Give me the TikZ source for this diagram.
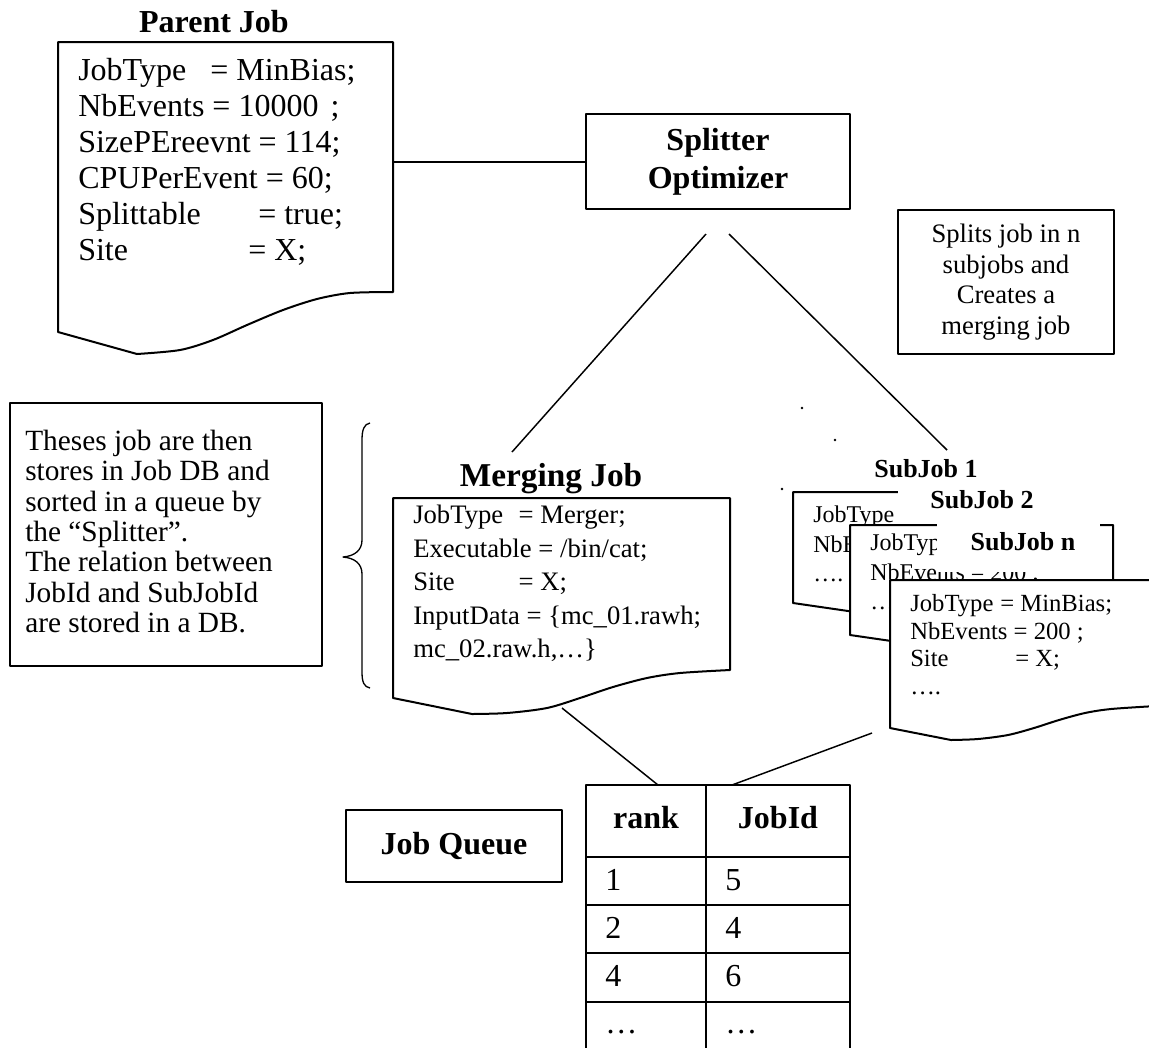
\documentclass[tikz,border=0pt]{standalone}
\usepackage{fontspec}
\setmainfont{Liberation Serif}
\begin{document}
\begin{tikzpicture}[x=0.75pt,y=-0.75pt,line join=round,
  shp/.style={line width=1.5pt},
  conn/.style={line width=1.1pt},
  bx/.style={draw,line width=1.5pt,inner sep=0pt},
  ttl/.style={font=\fontsize{24}{28}\selectfont\bfseries,inner sep=0pt,anchor=base},
  sttl/.style={font=\fontsize{19.5}{22}\selectfont\bfseries,inner sep=0pt,anchor=base},
  ptxt/.style={font=\fontsize{24}{27}\selectfont,align=left,anchor=north west,inner sep=0pt},
  mtxt/.style={font=\fontsize{20}{25.1}\selectfont,align=left,anchor=north west,inner sep=0pt},
  stxt/.style={font=\fontsize{18}{22}\selectfont,align=left,anchor=north west,inner sep=0pt},
  ctxt/.style={font=\fontsize{24}{27}\selectfont,inner sep=0pt,anchor=base west},
]
\useasboundingbox (0,0) rectangle (1149,1047);

% ---------- Parent job ----------
\node[ttl] (ptitle) at (214,32) {Parent Job};
\filldraw[shp,fill=white] (58,42) -- (393,42) -- (393,292)
  -- plot[smooth,tension=0.5] coordinates {(393,292) (350,293) (317,299) (283,310) (247,325) (213,340) (180,350) (137,354)}
  -- (58,332) -- cycle;
\node[ptxt] (ptext) at (78,58) {\makebox[99pt][l]{JobType}= MinBias;\\
NbEvents = 10000\hspace{9pt};\\
SizePEreevnt = 114;\\
CPUPerEvent = 60;\\
\makebox[135pt][l]{Splittable}= true;\\
\makebox[127.5pt][l]{Site}= X;};
\coordinate (pR) at (393,162);

% ---------- Splitter ----------
\node[bx,minimum width=198pt,minimum height=71.25pt,align=center,
  font=\fontsize{24}{28.5}\selectfont\bfseries] (split) at (718,161.5) {Splitter\\Optimizer};
\draw[conn] (pR) -- (pR -| split.west);

\node[bx,minimum width=162pt,minimum height=108pt,align=center,
  font=\fontsize{20}{23}\selectfont] (note) at (1006,282) {Splits job in n\\subjobs and\\Creates a\\merging job};

\coordinate (sL) at (706,234);
\coordinate (sR) at (729,234);
\coordinate (mTop) at (512,452);
\coordinate (jTop) at (947,450);
\draw[conn] (sL) -- (mTop);
\draw[conn] (sR) -- (jTop);

% small dots
\fill (802,408) circle (1.1pt);
\fill (835,440) circle (1.1pt);
\fill (782,489) circle (1.1pt);

% ---------- Left note and brace ----------
\node[bx,minimum width=234pt,minimum height=197.25pt] (lnote) at (166,534.5) {};
\node[font=\fontsize{22}{22.75}\selectfont,align=left,anchor=north west,inner sep=0pt] (ltext) at (25,430)
  {Theses job are then\\stores in Job DB and\\sorted in a queue by\\the “Splitter”.\\The relation between\\JobId and SubJobId\\are stored in a DB.};
\draw[line width=1pt] (370,423) .. controls (364,424) and (362,430) .. (362,440) -- (362,540)
  .. controls (362,550) and (355,556) .. (343,557)
  .. controls (355,558) and (362,564) .. (362,574) -- (362,672)
  .. controls (362,682) and (364,687) .. (370,688);

% ---------- Merging job ----------
\node[ttl,font=\fontsize{25}{28}\selectfont\bfseries] (mtitle) at (551,486) {Merging Job};
\filldraw[shp,fill=white] (393,498) -- (730,498) -- (730,670)
  -- plot[smooth,tension=0.5] coordinates {(730,670) (680,673) (647,678) (613,687) (580,698) (547,708) (507,713) (472,714)}
  -- (393,698) -- cycle;
\node[mtxt] (mtext) at (413,505) {\makebox[79pt][l]{JobType}= Merger;\\
Executable = /bin/cat;\\
\makebox[79pt][l]{Site}= X;\\
InputData = \{mc\_01.rawh;\\
mc\_02.raw.h,…\}};
\coordinate (mBot) at (562,708);

% ---------- SubJob 1 ----------
\begin{scope}
\clip (840,440) rectangle (1010,478);
\node[sttl] (s1title) at (926,477) {SubJob 1};
\end{scope}
\filldraw[shp,fill=white] (793,492) -- (1056,492) -- (1056,587)
  -- plot[smooth,tension=0.5] coordinates {(1056,587) (1017,589) (991,592) (965,597) (939,603) (913,609) (882,611) (855,612)}
  -- (793,603) -- cycle;
\node[stxt] (s1text) at (813,506) {\makebox[67.5pt][l]{JobType}= MinBias;\\
NbEvents = 200 ;\\
….};

% ---------- SubJob 2 ----------
\fill[white] (898,478) rectangle (1100,525);
\node[sttl] (s2title) at (982,508) {SubJob 2};
\filldraw[shp,fill=white] (850,525) -- (1113,525) -- (1113,620)
  -- plot[smooth,tension=0.5] coordinates {(1113,620) (1074,621) (1048,624) (1022,629) (996,635) (970,641) (939,643) (912,644)}
  -- (850,635) -- cycle;
\node[stxt] (s2text) at (870,534) {\makebox[67.5pt][l]{JobType}= MinBias;\\
NbEvents = 200 ;\\
….};

% ---------- SubJob n ----------
\fill[white] (937,518) rectangle (1100,572);
\node[sttl] (sntitle) at (1023,550) {SubJob n};
\filldraw[shp,fill=white] (1156,580) -- (890,580) -- (890,728) -- (951,740)
  -- plot[smooth,tension=0.5] coordinates {(951,740) (978,739) (1008,735) (1034,728) (1059,720) (1085,713) (1111,709) (1156,706)}
  -- cycle;
\node[stxt,font=\fontsize{18.5}{20.75}\selectfont] (sntext) at (910,594) {\makebox[67.5pt][l]{JobType}= MinBias;\\
NbEvents = 200 ;\\
\makebox[78.75pt][l]{Site}= X;\\
….};
\coordinate (nBot) at (872,733);

% ---------- Job queue ----------
\node[bx,minimum width=162pt,minimum height=54pt,font=\fontsize{24}{28}\selectfont\bfseries] (jq) at (454,846) {Job Queue};

% table
\draw[shp] (586,1049) -- (586,785) -- (850,785) -- (850,1049);
\draw[shp] (706,785) -- (706,1049);
\draw[shp] (586,857) -- (850,857);
\draw[shp] (586,905) -- (850,905);
\draw[shp] (586,953) -- (850,953);
\draw[shp] (586,1002) -- (850,1002);
\node[ttl] (hrank) at (646,828) {rank};
\node[ttl] (hjob) at (778,828) {JobId};
\node[ctxt] (r1a) at (605,890) {1};
\node[ctxt] (r1b) at (725,890) {5};
\node[ctxt] (r2a) at (605,938) {2};
\node[ctxt] (r2b) at (725,938) {4};
\node[ctxt] (r3a) at (605,986) {4};
\node[ctxt] (r3b) at (725,986) {6};
\node[ctxt] (r4a) at (605,1033) {…};
\node[ctxt] (r4b) at (725,1033) {…};
\coordinate (tA) at (658,785);
\coordinate (tB) at (732,785);
\draw[conn] (mBot) -- (tA);
\draw[conn] (nBot) -- (tB);
\end{tikzpicture}
\end{document}
